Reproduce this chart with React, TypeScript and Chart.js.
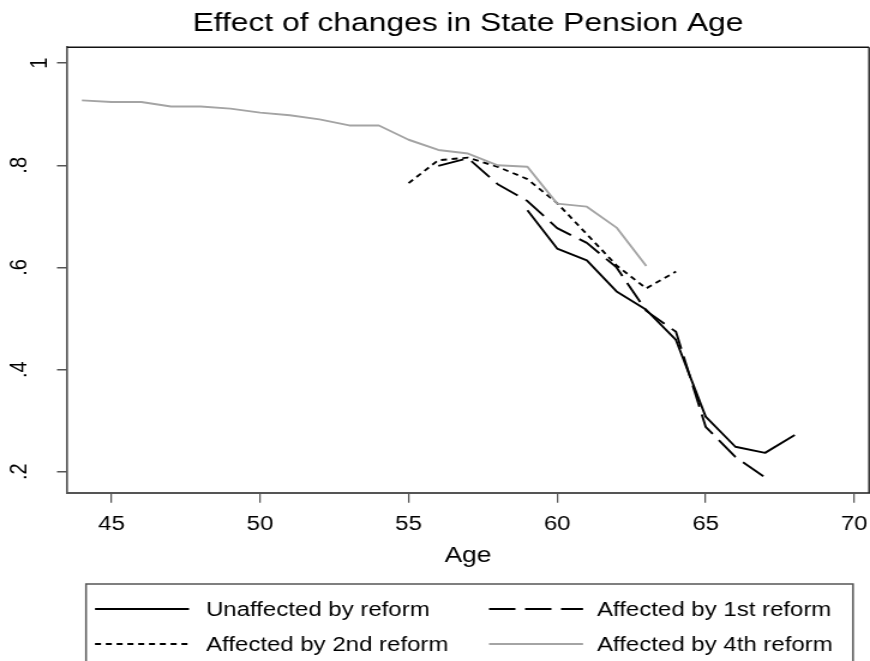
import React, { useEffect, useRef } from 'react';
import { Chart, registerables } from 'chart.js';

Chart.register(...registerables);

// ---- data ----
const titleText = 'Effect of changes in State Pension Age';
const xAxisTitle = 'Age';
const ages = [44, 45, 46, 47, 48, 49, 50, 51, 52, 53, 54, 55, 56, 57, 58, 59, 60, 61, 62, 63, 64, 65, 66, 67, 68];
const xTicks = [45, 50, 55, 60, 65, 70];
const yTicks = [0.2, 0.4, 0.6, 0.8, 1];
const yTickLabels = ['.2', '.4', '.6', '.8', '1'];
const seriesLabels = ['Unaffected by reform', 'Affected by 1st reform', 'Affected by 2nd reform', 'Affected by 4th reform'];

const unaffected = [null, null, null, null, null, null, null, null, null, null, null, null, null, null, null,
  0.712, 0.637, 0.614, 0.553, 0.517, 0.458, 0.308, 0.249, 0.237, 0.272];
const reform1 = [null, null, null, null, null, null, null, null, null, null, null, null,
  0.799, 0.814, 0.763, 0.730, 0.677, 0.648, 0.600, 0.515, 0.474, 0.288, 0.229, 0.189, null];
const reform2 = [null, null, null, null, null, null, null, null, null, null, null,
  0.765, 0.810, 0.815, 0.797, 0.773, 0.726, 0.665, 0.604, 0.559, 0.592, null, null, null, null];
const reform4 = [0.927, 0.924, 0.924, 0.915, 0.915, 0.911, 0.903, 0.898, 0.890, 0.878, 0.878, 0.850, 0.830,
  0.823, 0.800, 0.797, 0.725, 0.719, 0.678, 0.603, null, null, null, null, null];

// ---- presentation ----
const S = 1.2; // horizontal stretch of the picture
const W = 870;
const H = 661;
const IW = Math.round(W / S);
const FONT = "'Liberation Sans', Arial, Helvetica, sans-serif";

const toPoints = (vals: (number | null)[]) =>
  ages.map((a, i) => ({ x: a, y: vals[i] })).filter((p) => p.y !== null);

const framePlugin = {
  id: 'frame',
  afterDraw(chart: any) {
    const { ctx, chartArea } = chart;
    ctx.save();
    ctx.strokeStyle = '#111';
    ctx.lineWidth = 1.6;
    ctx.beginPath();
    ctx.moveTo(chartArea.left, chartArea.top);
    ctx.lineTo(chartArea.right, chartArea.top);
    ctx.stroke();
    ctx.lineWidth = 1.6 / S;
    ctx.beginPath();
    ctx.moveTo(chartArea.right, chartArea.top);
    ctx.lineTo(chartArea.right, chartArea.bottom);
    ctx.stroke();
    ctx.restore();
  },
};

const boxLegendPlugin = {
  id: 'boxLegend',
  afterDraw(chart: any) {
    const ctx = chart.ctx;
    const ds = chart.data.datasets;
    ctx.save();
    ctx.strokeStyle = '#555';
    ctx.lineWidth = 1.5;
    ctx.strokeRect(86 / S, 584, (853 - 86) / S, 120);
    const sampleX = [95, 489];
    const sampleLen = 94;
    const textX = [206, 597];
    const rowY = [609, 644];
    ctx.font = `20px ${FONT}`;
    ctx.textBaseline = 'middle';
    ctx.textAlign = 'left';
    ds.forEach((d: any, i: number) => {
      const col = i % 2;
      const row = Math.floor(i / 2);
      const y = rowY[row];
      ctx.save();
      ctx.strokeStyle = d.borderColor;
      ctx.lineWidth = d.borderWidth;
      ctx.setLineDash(d.borderDash || []);
      ctx.beginPath();
      ctx.moveTo(sampleX[col] / S, y);
      ctx.lineTo((sampleX[col] + sampleLen) / S, y);
      ctx.stroke();
      ctx.restore();
      ctx.fillStyle = '#000';
      ctx.fillText(d.label, textX[col] / S, y + 1);
    });
    ctx.restore();
  },
};

export default function App() {
  const ref = useRef<HTMLCanvasElement | null>(null);

  useEffect(() => {
    if (!ref.current) return;
    const chart = new Chart(ref.current, {
      type: 'line',
      data: {
        datasets: [
          { label: seriesLabels[0], data: toPoints(unaffected), borderColor: '#000', borderWidth: 1.9, borderDash: [], order: 3 },
          { label: seriesLabels[1], data: toPoints(reform1), borderColor: '#000', borderWidth: 1.9, borderDash: [22, 8], order: 2 },
          { label: seriesLabels[2], data: toPoints(reform2), borderColor: '#000', borderWidth: 1.9, borderDash: [5, 4], order: 1 },
          { label: seriesLabels[3], data: toPoints(reform4), borderColor: '#a4a4a4', borderWidth: 1.9, borderDash: [], order: 0 },
        ],
      },
      options: {
        responsive: false,
        animation: false,
        devicePixelRatio: 1,
        events: [],
        elements: { point: { radius: 0 }, line: { tension: 0, borderJoinStyle: 'round' } },
        layout: { padding: { left: 0, right: IW - 869 / S, top: 0, bottom: H - 572.7 } },
        plugins: {
          legend: { display: false },
          tooltip: { enabled: false },
          title: {
            display: true,
            text: titleText,
            fullSize: false,
            color: '#000',
            font: { size: 26.5, family: FONT, weight: 'normal', lineHeight: 1.2 },
            padding: { top: 7.9, bottom: 7.6 },
          },
        },
        scales: {
          x: {
            type: 'linear',
            min: 43.5,
            max: 70.5,
            afterBuildTicks: (s: any) => {
              s.ticks = xTicks.map((v) => ({ value: v }));
            },
            afterFit: (s: any) => {
              s.height = 80;
              s.paddingLeft = 0;
              s.paddingRight = 0;
            },
            ticks: {
              autoSkip: false,
              maxRotation: 0,
              minRotation: 0,
              padding: 9.3,
              color: '#000',
              font: { size: 20, family: FONT },
              callback: (_v: any, i: number) => String(xTicks[i]),
            },
            grid: { drawOnChartArea: false, drawTicks: true, tickLength: 10, color: '#555', lineWidth: 1.5 / S },
            border: { display: true, color: '#555', width: 2 },
            title: {
              display: true,
              text: xAxisTitle,
              color: '#000',
              font: { size: 22, family: FONT },
              padding: { top: 4, bottom: 3.5 },
            },
          },
          y: {
            type: 'linear',
            min: 0.159,
            max: 1.031,
            afterBuildTicks: (s: any) => {
              s.ticks = yTicks.map((v) => ({ value: v }));
            },
            afterFit: (s: any) => {
              s.width = 67 / S;
              s.paddingTop = 0;
              s.paddingBottom = 0;
            },
            ticks: {
              autoSkip: false,
              minRotation: 90,
              maxRotation: 90,
              crossAlign: 'center',
              padding: 22.75,
              color: '#000',
              font: { size: 20, family: FONT, lineHeight: 1.67 },
              callback: (_v: any, i: number) => {
                const t = yTickLabels[i];
                return t.length === 1 ? ['', t] : t;
              },
            },
            grid: { drawOnChartArea: false, drawTicks: true, tickLength: 10 / S, color: '#555', lineWidth: 1.5 },
            border: { display: true, color: '#555', width: 2 / S },
          },
        },
      } as any,
      plugins: [framePlugin, boxLegendPlugin],
    });
    return () => chart.destroy();
  }, []);

  return (
    <div style={{ position: 'fixed', left: 0, top: 0, width: W, height: H, background: '#fff', overflow: 'hidden' }}>
      <canvas ref={ref} width={IW} height={H} style={{ width: `${W}px`, height: `${H}px`, display: 'block' }} />
    </div>
  );
}
